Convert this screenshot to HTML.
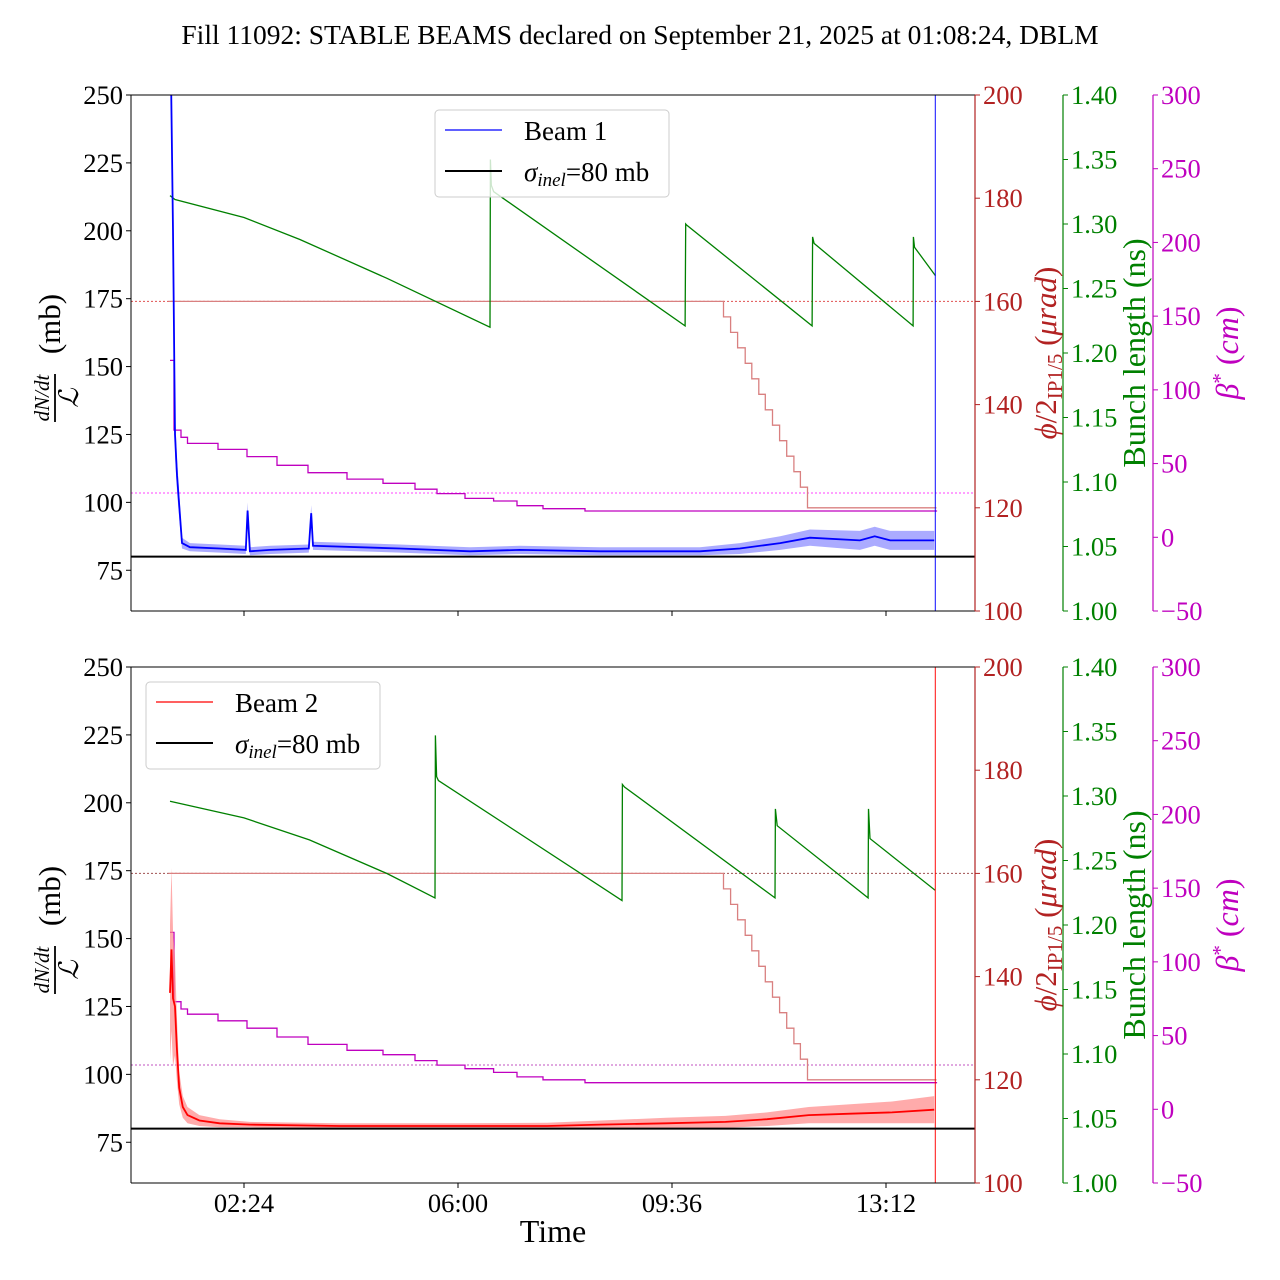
<!DOCTYPE html>
<html><head><meta charset="utf-8"><style>
html,body{margin:0;padding:0;background:#fff}
svg{display:block;font-family:"Liberation Serif",serif}
</style></head><body>
<svg id="chart" width="1280" height="1280" viewBox="0 0 1280 1280" xmlns="http://www.w3.org/2000/svg">
<text x="640" y="44" text-anchor="middle" font-size="27.5">Fill 11092: STABLE BEAMS declared on September 21, 2025 at 01:08:24, DBLM</text>
<g id="plots"></g>
</svg>
<script>
// ---- data (hours of day) ----
const xTickLabels = ["02:24","06:00","09:36","13:12"];
const xTickHours = [2.4, 6.0, 9.6, 13.2];
const leftTicks = [75,100,125,150,175,200,225,250];
const redTicks = [100,120,140,160,180,200];
const greenTicks = [1.00,1.05,1.10,1.15,1.20,1.25,1.30,1.35,1.40];
const magTicks = [-50,0,50,100,150,200,250,300];

const b1Hours = [1.17,1.205,1.239,1.273,1.306,1.357,1.49,1.99,2.43,2.46,2.50,2.84,3.49,3.53,3.56,5.02,6.2,7.04,8.39,10.07,10.74,11.42,11.92,12.76,13.01,13.27,14.01];
const b1Rate  = [260,200,125,110,100,85,83.5,83,82.5,97,82,82.5,83,96,84,83,82,82.5,82,82,83,85,87,86,87.5,86,86];
const b1Band  = [0,10,8,6,5,2,1.5,1.5,1.5,3,1.5,1.5,1.5,3,1.5,1.5,1.5,1.5,1.5,1.5,2,2.5,3,3.5,3.5,3.5,3.5];

const b2Hours = [1.155,1.18,1.205,1.24,1.27,1.31,1.37,1.45,1.65,1.99,2.5,4.0,6.0,7.5,8.4,9.5,10.5,11.2,11.9,12.6,13.3,14.01];
const b2Rate  = [130,146,128,125,110,95,88,85,83,82,81.5,81,81,81,81.5,82,82.5,83.5,85,85.5,86,87];
const b2Band  = [25,30,25,18,12,6,4,3,2,1.5,1,1,1,1.2,1.5,2,2.2,2.5,3,3.5,4,5];

const bl1Hours = [1.155,1.24,2.4,3.34,4.8,6.539,6.545,6.56,6.6,9.82,9.83,9.85,11.956,11.965,11.99,13.655,13.66,13.68,14.03];
const bl1Len   = [1.322,1.319,1.305,1.288,1.258,1.220,1.350,1.330,1.325,1.221,1.300,1.299,1.221,1.290,1.285,1.221,1.290,1.282,1.260];
const bl2Hours = [1.155,2.4,3.5,4.8,5.613,5.62,5.64,5.67,8.759,8.765,8.8,11.333,11.34,11.37,12.898,12.905,12.93,14.026];
const bl2Len   = [1.296,1.283,1.266,1.240,1.221,1.347,1.315,1.312,1.219,1.309,1.307,1.221,1.290,1.277,1.221,1.290,1.267,1.227];

const xingHours = [1.13,10.466,10.585,10.703,10.831,10.942,11.06,11.17,11.29,11.41,11.53,11.65,11.76,11.88,14.05];
const xingVals  = [160,157,154,151,148,145,142,139,136,133,130,127,124,120,120];

const betaHours = [1.155,1.222,1.340,1.450,1.963,2.451,2.955,3.477,4.133,4.739,5.277,5.647,6.118,6.598,6.993,7.430,8.137,8.658,14.06];
const beta1Vals = [120,72.7,67.8,63.7,59.6,54.7,48.8,43.8,39.5,36.6,32.6,29.6,26.4,24.6,21.4,19.4,17.8,17.8,17.8];
const beta2Vals = [120,73,68,64.5,60,55,49,44,40,37,33,30,27.5,25,22,20,18,18,18];

const sigmaInel = 80;
const xingRef = 160;
const betaRef = 30;
const dumpHour = 14.03;

// ---- axes ----
const XL=131, XR=975, H=516;
const xMin=0.499, xMax=14.697;
function X(h){return XL+(h-xMin)/(xMax-xMin)*(XR-XL);}
function lin(lo,hi,top){return v=>top+H-(v-lo)/(hi-lo)*H;}
const NS="http://www.w3.org/2000/svg";
const root=document.getElementById('plots');
function el(tag,attrs,parent){const e=document.createElementNS(NS,tag);for(const k in attrs)e.setAttribute(k,attrs[k]);(parent||root).appendChild(e);return e;}
function poly(hs,vs,Y,step){let p=[];for(let i=0;i<hs.length;i++){if(step&&i>0)p.push(X(hs[i]).toFixed(1)+','+Y(vs[i-1]).toFixed(1));p.push(X(hs[i]).toFixed(1)+','+Y(vs[i]).toFixed(1));}return p.join(' ');}

const RED="#b22222", GREEN="#008000", MAG="#bf00bf";
const TF=26.5;

function panel(top,beam){
  const g=el('g',{});
  
  
  const clipId='clip'+beam;
  const cp=el('clipPath',{id:clipId},g);el('rect',{x:XL,y:top,width:XR-XL,height:H},cp);
  const Yl=lin(60,250,top), Yr=lin(100,200,top), Yg=lin(1.0,1.4,top), Ym=lin(-50,300,top);
  const d=el('g',{'clip-path':'url(#'+clipId+')'},g);
  const rl=el('line',{x1:XL,x2:XR,y1:Yr(xingRef),y2:Yr(xingRef),stroke:beam===1?'#e05050':'#a05050','stroke-width':1,'stroke-dasharray':'2,2'},d);
  
  
  const ml=el('line',{x1:XL,x2:XR,y1:Ym(betaRef),y2:Ym(betaRef),stroke:beam===1?'#ff40ff':'#c050c0','stroke-width':1,'stroke-dasharray':'2,2'},d);
  
  
  const xl=el('polyline',{points:poly(xingHours,xingVals,Yr,true),fill:'none',stroke:'#d98080','stroke-width':1.3},d);
  
  
  const bv=beam===1?beta1Vals:beta2Vals;
  const bl=el('polyline',{points:poly(betaHours,bv,Ym,true),fill:'none',stroke:MAG,'stroke-width':1.3},d);
  
  
  const gh=beam===1?bl1Hours:bl2Hours, gv=beam===1?bl1Len:bl2Len;
  const gl=el('polyline',{points:poly(gh,gv,Yg,false),fill:'none',stroke:GREEN,'stroke-width':1.3},d);
  
  
  const rh=beam===1?b1Hours:b2Hours, rv=beam===1?b1Rate:b2Rate, rb=beam===1?b1Band:b2Band;
  const col=beam===1?'#0000ff':'#ff0000', bandCol=beam===1?'#8888ff':'#ff8888';
  let pts=[];for(let i=0;i<rh.length;i++)pts.push(X(rh[i]).toFixed(1)+','+Yl(rv[i]+rb[i]).toFixed(1));
  for(let i=rh.length-1;i>=0;i--)pts.push(X(rh[i]).toFixed(1)+','+Yl(rv[i]-rb[i]).toFixed(1));
  const band=el('polygon',{points:pts.join(' '),fill:bandCol,'fill-opacity':0.7,stroke:'none'},d);
  
  
  const rline=el('polyline',{points:poly(rh,rv,Yl,false),fill:'none',stroke:col,'stroke-width':1.8},d);
  
  
  const dump=el('line',{x1:X(dumpHour),x2:X(dumpHour),y1:top,y2:top+H,stroke:col,'stroke-width':1.2,'stroke-opacity':0.8},d);
  
  
  const sl=el('line',{x1:XL,x2:XR,y1:Yl(sigmaInel),y2:Yl(sigmaInel),stroke:'#000','stroke-width':2},d);
  
  
  el('line',{x1:XL,x2:XR,y1:top,y2:top,stroke:'#000','stroke-width':1},g);
  el('line',{x1:XL,x2:XR,y1:top+H,y2:top+H,stroke:'#000','stroke-width':1},g);
  el('line',{x1:XL,x2:XL,y1:top,y2:top+H,stroke:'#000','stroke-width':1},g);
  leftTicks.forEach(v=>{const y=Yl(v);el('line',{x1:XL-5,x2:XL,y1:y,y2:y,stroke:'#000'},g);
    const t=el('text',{x:XL-8,y:y+9,'text-anchor':'end','font-size':TF},g);t.textContent=v;
    });
  xTickHours.forEach((h,i)=>{const x=X(h);el('line',{x1:x,x2:x,y1:top+H,y2:top+H+5,stroke:'#000'},g);
    if(beam===2){const t=el('text',{x:x,y:top+H+29,'text-anchor':'middle','font-size':TF},g);t.textContent=xTickLabels[i];
    }});
  function raxis(x0,ticks,Y,color,fmt,name){
    const ax=el('g',{},g);
    el('line',{x1:x0,x2:x0,y1:top,y2:top+H,stroke:color,'stroke-width':1.2},ax);
    ticks.forEach(v=>{const y=Y(v);el('line',{x1:x0,x2:x0+5,y1:y,y2:y,stroke:color},ax);
      const t=el('text',{x:x0+8,y:y+9,'font-size':TF,fill:color},ax);t.textContent=fmt(v);});
  }
  raxis(975,redTicks,Yr,RED,v=>String(v),'crossing-angle-axis');
  raxis(1063,greenTicks,Yg,GREEN,v=>v.toFixed(2),'bunch-length-axis');
  raxis(1153,magTicks,Ym,MAG,v=>v<0?'\u2212'+(-v):String(v),'beta-star-axis');
  const cy=top+H/2;
  const lt=el('g',{transform:'translate(58,'+(cy+5)+') rotate(-90)'},g);
  
  let t=el('text',{x:-40,y:-9,'text-anchor':'middle','font-size':21,'font-style':'italic'},lt);t.textContent='dN/dt';
  el('line',{x1:-64,x2:-16,y1:-3,y2:-3,stroke:'#000','stroke-width':1.8},lt);
  t=el('text',{x:-40,y:20,'text-anchor':'middle','font-size':27,'font-style':'italic','font-family':'DejaVu Serif, serif'},lt);t.textContent='\u2112';
  t=el('text',{x:34,y:2,'text-anchor':'middle','font-size':31},lt);t.textContent='(mb)';
  const rt=el('text',{transform:'translate(1056,'+cy+') rotate(-90)','text-anchor':'middle','font-size':31,fill:RED},g);
  
  rt.innerHTML='<tspan font-style="italic">\u03d5</tspan>/2<tspan font-size="21" dy="6">IP1/5</tspan><tspan dy="-6"> (</tspan><tspan font-style="italic">\u03bcrad</tspan>)';
  const gt=el('text',{transform:'translate(1145,'+cy+') rotate(-90)','text-anchor':'middle','font-size':32,fill:GREEN},g);
  
  gt.textContent='Bunch length (ns)';
  const mt=el('text',{transform:'translate(1238,'+cy+') rotate(-90)','text-anchor':'middle','font-size':32,fill:MAG},g);
  
  mt.innerHTML='<tspan font-style="italic">\u03b2</tspan><tspan dy="-11" font-size="21">*</tspan><tspan dy="11"> (</tspan><tspan font-style="italic">cm</tspan>)';
  const lx=beam===1?435:146, ly=beam===1?110:682;
  const lg=el('g',{},g);
  el('rect',{x:lx,y:ly,width:234,height:87,rx:4,fill:'#fff','fill-opacity':0.8,stroke:'#ccc'},lg);
  el('line',{x1:lx+10,x2:lx+67,y1:ly+20,y2:ly+20,stroke:col,'stroke-width':1.3},lg);
  t=el('text',{x:lx+89,y:ly+30,'font-size':27},lg);t.textContent=beam===1?'Beam 1':'Beam 2';
  el('line',{x1:lx+10,x2:lx+67,y1:ly+61,y2:ly+61,stroke:'#000','stroke-width':2},lg);
  t=el('text',{x:lx+89,y:ly+71,'font-size':27},lg);
  t.innerHTML='<tspan font-style="italic">\u03c3</tspan><tspan font-size="19" dy="5" font-style="italic">inel</tspan><tspan dy="-5">=80 mb</tspan>';
}
panel(95,1);
panel(667,2);
const xt=el('text',{x:553,y:1242,'text-anchor':'middle','font-size':32});


xt.textContent='Time';
</script>
</body></html>
